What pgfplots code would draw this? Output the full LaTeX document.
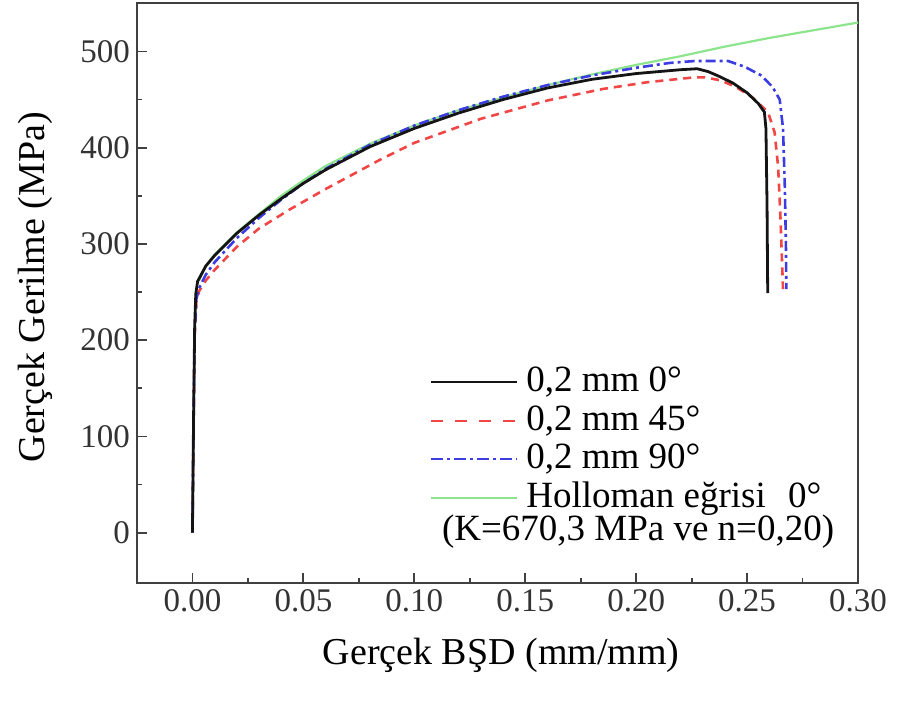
\documentclass[border=0pt]{standalone}
\usepackage{pgfplots}
\pgfplotsset{compat=1.18}
\usepackage{fontspec}
\setmainfont{Liberation Serif}

\definecolor{c0}{RGB}{20,20,20}
\definecolor{c45}{RGB}{240,70,70}
\definecolor{c90}{RGB}{60,60,225}
\definecolor{chol}{RGB}{140,228,140}

\begin{document}
\begin{tikzpicture}
\begin{axis}[
    scale only axis,
    width=360.5pt, height=289.7pt,
    xmin=-0.025, xmax=0.30, ymin=-52, ymax=550,
    xtick={0,0.05,0.1,0.15,0.2,0.25,0.3},
    ytick={0,100,200,300,400,500},
    minor x tick num=1, minor y tick num=1,
    tick align=inside, tick pos=left,
    major tick length=5pt, minor tick length=2.5pt,
    xticklabel style={/pgf/number format/fixed, /pgf/number format/fixed zerofill,
        /pgf/number format/precision=2},
    /pgf/number format/assume math mode=true,
    ticklabel style={font=\fontsize{16.5}{16.5}\selectfont, text=black!80},
    axis line style={black!75, line width=1.1pt},
    every tick/.style={black!75, line width=0.9pt},
    xlabel={Gerçek BŞD (mm/mm)},
    ylabel={Gerçek Gerilme (MPa)},
    label style={font=\fontsize{19}{19}\selectfont},
    xlabel style={at={(axis description cs:0.505,-0.125)}, anchor=center},
    ylabel style={at={(axis description cs:-0.1415,0.51)}, anchor=center},
    legend style={at={(axis description cs:0.4064,0.3800)}, anchor=north west,
        draw=none, fill=none, inner sep=0pt, column sep=3.5pt,
        font=\fontsize{18.5}{18.5}\selectfont,
        nodes={inner sep=0.5pt, text height=14pt, text depth=4.25pt}},
    legend cell align=left,
    legend image code/.code={\draw[#1, line width=1pt] (0pt,0pt) -- (43pt,0pt);},
]
% legend first, curves drawn afterwards so the green fit sits underneath
\addlegendimage{c0}
\addlegendentry{0,2 mm 0°}
\addlegendimage{c45, dash pattern=on 6pt off 6pt}
\addlegendentry{0,2 mm 45°}
\addlegendimage{c90, dash pattern=on 6pt off 2pt on 1.5pt off 2pt}
\addlegendentry{0,2 mm 90°}
\addlegendimage{chol}
\addlegendentry{Holloman eğrisi\hspace{0.6em}0°}

% Holloman fit
\addplot[chol, line width=1.1pt, forget plot] coordinates {
  (0.003,262) (0.006,277) (0.01,289) (0.02,312) (0.03,331) (0.04,350)
  (0.05,366) (0.06,381) (0.08,404) (0.10,423) (0.12,439) (0.14,452)
  (0.16,465) (0.18,476) (0.20,486) (0.22,495) (0.24,505) (0.26,514)
  (0.28,522) (0.30,530)
};
% 45 deg
\addplot[c45, line width=1.3pt, dash pattern=on 4pt off 3pt, forget plot] coordinates {
  (0,0) (0.0005,110) (0.001,205) (0.0018,240) (0.003,251) (0.006,262)
  (0.01,273) (0.02,297) (0.03,316) (0.044,336) (0.06,357) (0.085,388)
  (0.10,405) (0.13,430) (0.16,449) (0.185,461) (0.205,468) (0.226,473)
  (0.231,473) (0.238,470) (0.245,463) (0.252,453) (0.2594,437) (0.2624,416)
  (0.264,380) (0.265,330) (0.2662,253)
};
% 90 deg
\addplot[c90, line width=1.3pt, dash pattern=on 5pt off 2pt on 1.5pt off 2pt, forget plot] coordinates {
  (0,0) (0.0005,115) (0.001,210) (0.0018,243) (0.003,254) (0.006,268)
  (0.01,281) (0.02,306) (0.03,327) (0.04,346) (0.05,363) (0.06,378)
  (0.08,403) (0.10,423) (0.12,439) (0.14,453) (0.16,465) (0.18,475)
  (0.20,483) (0.215,488) (0.2262,490) (0.2415,490) (0.249,484) (0.2564,475)
  (0.2615,463) (0.2647,450) (0.2662,420) (0.267,360) (0.2675,300) (0.2677,253)
};
% 0 deg
\addplot[c0, line width=1.4pt, forget plot] coordinates {
  (0,0) (0.0005,120) (0.001,215) (0.0015,248) (0.0023,261) (0.006,277)
  (0.01,288) (0.02,311) (0.03,330) (0.04,347) (0.05,363) (0.06,377)
  (0.08,401) (0.10,420) (0.12,436) (0.14,450) (0.16,462) (0.18,471)
  (0.20,477) (0.21,479) (0.22,481) (0.2275,482) (0.2325,479) (0.2375,474)
  (0.2437,467) (0.25,457) (0.255,446) (0.2578,437) (0.2585,420) (0.259,340)
  (0.2593,249)
};
\node[font=\fontsize{18.5}{18.5}\selectfont] at (axis description cs:0.695,0.0876)
  {(K=670,3 MPa ve n=0,20)};
\end{axis}
\pgfresetboundingbox
\path ([xshift=-68.5pt,yshift=-63.15pt]current axis.south west)
  rectangle ([xshift=20pt,yshift=1.65pt]current axis.north east);
\end{tikzpicture}
\end{document}
